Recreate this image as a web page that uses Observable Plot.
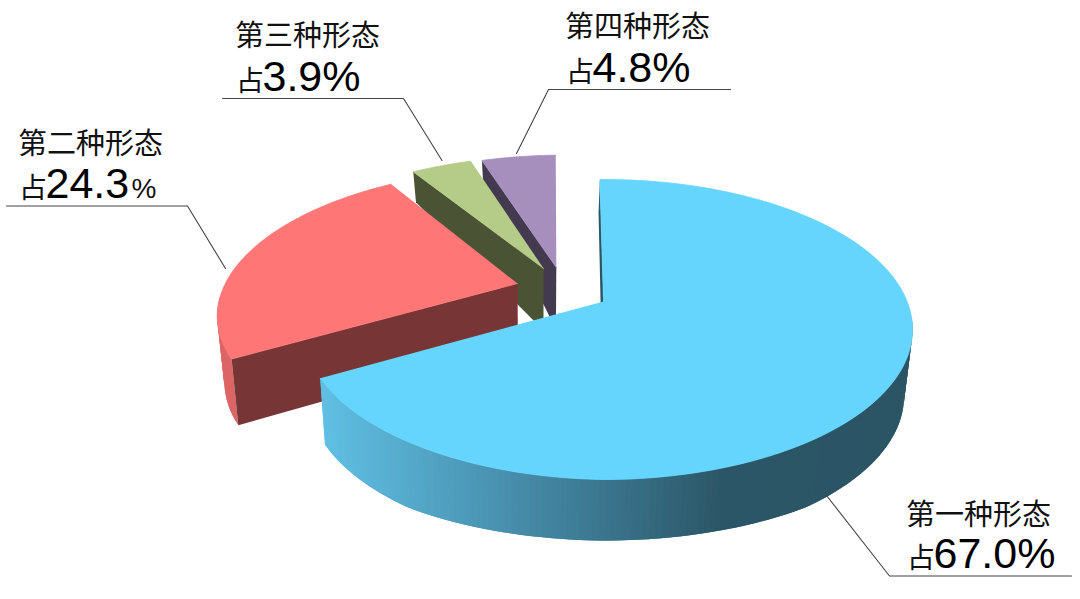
<!DOCTYPE html>
<html>
<head>
<meta charset="utf-8">
<script src="https://cdn.jsdelivr.net/npm/d3@7"></script>
<script src="https://cdn.jsdelivr.net/npm/@observablehq/plot@0.6"></script>
<style>html,body{margin:0;padding:0;background:#fff}svg{display:block}</style>
</head>
<body>
<div id="chart"></div>
<script>
// Data
const categories = ["第一种形态", "第二种形态", "第三种形态", "第四种形态"];
const shares = [67.0, 24.3, 3.9, 4.8];
const prefix = "占";

// Style of each slice
const topColors = ["#66D5FD", "#FF7676", "#B5CC88", "#A68FBD"];
const cutColors = ["#2B5565", "#773535", "#4A5333", "#433A50"];
const wallColors = [null, "#DC6565", "#6F7D50", "#6A5A78"];
const blueWall = d3.scaleLinear().domain([325, 500, 720, 910]).range(["#5FBEE2", "#4890AE", "#2B5667", "#2B5565"]);

// Explosion of each slice, in units of the pie radius, plus small drawing adjustments
const explodeU = [0, -0.290, -0.206, -0.1625];
const explodeV = [0, -0.127, -0.238, -0.2456];
const radiusFactor = [1, 0.985, 1, 1];
const turnDeg = [0, -0.7, -1, -1];

// Projection
const apexX = 603, apexY = 301, R = 303.6, Ry = 144.8, k = 0.1866, startDeg = -0.8;
const depth = d3.scaleLinear().domain([150, 170, 268, 350, 440, 480]).range([16, 30, 62, 66, 67, 61]).clamp(true);
function topPlane(u, v) {
  const s = 1 / (1 - k * v);
  return [apexX + R * u * s, apexY + Ry * v * s];
}
function lowPlane(p) {
  return [p[0] * 0.978 + 11.8, p[1] + depth(p[1])];
}

// Slices
let acc = startDeg;
const slices = shares.map((v, i) => {
  const a0 = acc + turnDeg[i], a1 = acc + v * 3.6 + turnDeg[i];
  acc += v * 3.6;
  return {i, a0, a1};
});
const rim = (s, a) => {
  const t = a * Math.PI / 180;
  const r = s.i === 0 ? 1 - 0.027 * Math.max(0, -Math.sin(t)) : radiusFactor[s.i];
  return topPlane(explodeU[s.i] + r * Math.sin(t), explodeV[s.i] - r * Math.cos(t));
};
const tip = s => topPlane(explodeU[s.i], explodeV[s.i]);
const angles = s => {
  const n = Math.ceil(s.a1 - s.a0);
  return d3.range(n + 1).map(j => s.a0 + (s.a1 - s.a0) * j / n);
};

function poly(rows, id, color, pts) {
  pts.forEach(p => rows.push({x: p[0], y: p[1], id, color}));
}
const layers = [];
// painter's order: back slices first
[3, 2, 1, 0].forEach(i => {
  const s = slices[i];
  const wall = [], cut = [], face = [];
  const as = angles(s);
  // only the front of the rim is seen; strips overlap by one step so no seams appear
  for (let j = 0; j < as.length - 1; j++) {
    if (Math.cos(as[j] * Math.PI / 180) > -0.1) continue;
    const p = rim(s, as[j]), q = rim(s, Math.min(as[j + 1] + 1, s.a1));
    const c = i === 0 ? blueWall((p[0] + q[0]) / 2) : wallColors[i];
    poly(wall, `w${i}-${j}`, c, [p, q, lowPlane(q), lowPlane(p)]);
  }
  const t = tip(s), c0 = rim(s, s.a0);
  poly(cut, `c${i}`, cutColors[i], [t, c0, lowPlane(c0), lowPlane(t)]);
  poly(face, `f${i}`, topColors[i], [t, ...as.map(a => rim(s, a))]);
  layers.push({rows: wall, sw: 0}, {rows: cut, sw: 0}, {rows: face, sw: 0.8});
});

// Labels
const leaders = [
  [[826, 495], [889, 575.5], [1071, 575.5]],
  [[225, 268], [187, 205.5], [6, 205.5]],
  [[441.5, 160], [403, 98], [222, 98]],
  [[516, 153], [548, 89], [730, 89]]
];
const nameAt = [[905.5, 524], [17.5, 153], [234.5, 45], [564.5, 36]];
const prefixAt = [[906.5, 567], [18.5, 197], [235.5, 90], [565.5, 81]];
const valueAt = [[933, 567], [45, 197], [262, 90], [592, 81]];

const cjk = "Noto Sans CJK SC", latin = "Liberation Sans";
const idx = d3.range(categories.length);
const leaderRows = leaders.flatMap((l, i) => l.map(p => ({x: p[0], y: p[1], i})));
const valueText = i => i === 1 ? shares[i].toFixed(1) : shares[i].toFixed(1) + "%";

const marks = [
  ...layers.filter(l => l.rows.length).map(({rows, sw}) => Plot.line(rows, {x: "x", y: "y", z: "id", fill: "color", stroke: sw ? "color" : "none", strokeWidth: sw, strokeLinejoin: "round", curve: "linear"})),
  Plot.line(leaderRows, {x: "x", y: "y", z: "i", stroke: "#444", strokeWidth: 1.1, curve: "linear"}),
  Plot.text(idx, {x: i => nameAt[i][0], y: i => nameAt[i][1], text: i => categories[i], textAnchor: "start", lineAnchor: "bottom", fill: "#111", fontFamily: cjk, fontSize: 29}),
  Plot.text(idx, {x: i => prefixAt[i][0], y: i => prefixAt[i][1], text: () => prefix, textAnchor: "start", lineAnchor: "bottom", fill: "#111", fontFamily: cjk, fontSize: 28}),
  Plot.text(idx, {x: i => valueAt[i][0], y: i => valueAt[i][1], text: valueText, textAnchor: "start", lineAnchor: "bottom", fill: "#000", fontFamily: latin, fontSize: 43}),
  Plot.text([1], {x: () => 131, y: () => 197, text: () => "%", textAnchor: "start", lineAnchor: "bottom", fill: "#111", fontFamily: latin, fontSize: 28})
];

const chart = Plot.plot({
  width: 1080, height: 599,
  marginTop: 0, marginRight: 0, marginBottom: 0, marginLeft: 0,
  x: {domain: [0, 1080], range: [0, 1080], axis: null},
  y: {domain: [0, 599], range: [0, 599], axis: null},
  color: {type: "identity"},
  style: {background: "#fff"},
  marks
});
document.getElementById("chart").appendChild(chart);
</script>
</body>
</html>
